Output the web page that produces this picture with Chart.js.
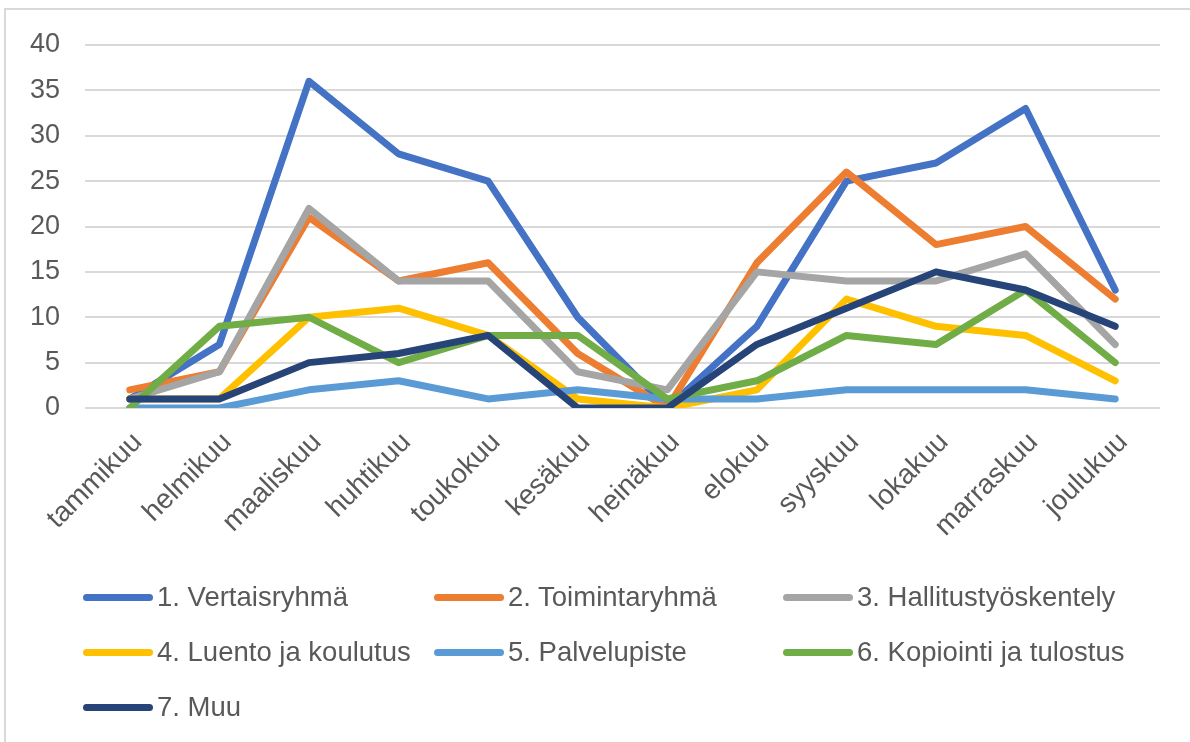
<!DOCTYPE html>
<html>
<head>
<meta charset="utf-8">
<script src="https://cdn.jsdelivr.net/npm/chart.js@4.4.1/dist/chart.umd.min.js"></script>
<style>
  html, body { margin: 0; padding: 0; background: #fff; }
  #wrap { position: relative; width: 1190px; height: 742px; overflow: hidden; }
  #frame { position: absolute; left: 4px; top: 8px; width: 1300px; height: 800px;
           border-left: 2px solid #d9d9d9; border-top: 2px solid #d9d9d9; }
  #c { position: absolute; left: 0; top: 0; }
  #legend { position: absolute; left: 0; top: 0; width: 1190px; height: 742px; pointer-events: none;
            font-family: "Liberation Sans", Arial, sans-serif; font-size: 27.5px; color: #595959; }
  .item { position: absolute; display: flex; align-items: center; white-space: nowrap; }
  .sw { width: 70px; height: 7px; border-radius: 4px; margin-right: 4px; }
</style>
</head>
<body>
<div id="wrap">
  <div id="frame"></div>
  <canvas id="c" width="1190" height="742"></canvas>
  <div id="legend"></div>
</div>
<script>
const months = ["tammikuu","helmikuu","maaliskuu","huhtikuu","toukokuu","kesäkuu","heinäkuu","elokuu","syyskuu","lokakuu","marraskuu","joulukuu"];
const seriesNames = ["1. Vertaisryhmä","2. Toimintaryhmä","3. Hallitustyöskentely","4. Luento ja koulutus","5. Palvelupiste","6. Kopiointi ja tulostus","7. Muu"];
const vertaisryhma = [1,7,36,28,25,10,0,9,25,27,33,13];
const toimintaryhma = [2,4,21,14,16,6,0,16,26,18,20,12];
const hallitustyoskentely = [1,4,22,14,14,4,2,15,14,14,17,7];
const luentoJaKoulutus = [1,1,10,11,8,1,0,2,12,9,8,3];
const palvelupiste = [0,0,2,3,1,2,1,1,2,2,2,1];
const kopiointiJaTulostus = [0,9,10,5,8,8,1,3,8,7,13,5];
const muu = [1,1,5,6,8,0,0,7,11,15,13,9];
const yTicks = [0,5,10,15,20,25,30,35,40];

const seriesValues = [vertaisryhma, toimintaryhma, hallitustyoskentely, luentoJaKoulutus, palvelupiste, kopiointiJaTulostus, muu];
const colors = ["#4472C4","#ED7D31","#A5A5A5","#FFC000","#5B9BD5","#70AD47","#264478"];

const datasets = seriesValues.map((vals, i) => ({
  label: seriesNames[i],
  data: vals,
  borderColor: colors[i],
  backgroundColor: colors[i],
  borderWidth: 7,
  pointRadius: 0,
  pointHoverRadius: 0,
  tension: 0,
  fill: false,
  borderJoinStyle: 'round',
  borderCapStyle: 'round',
  order: seriesValues.length - 1 - i
}));

new Chart(document.getElementById('c'), {
  type: 'line',
  data: { labels: months, datasets },
  options: {
    responsive: false,
    animation: false,
    layout: { padding: { left: 0, right: 30, top: 45, bottom: 0 } },
    plugins: { legend: { display: false }, tooltip: { enabled: false } },
    scales: {
      x: {
        offset: true,
        grid: { display: false, drawTicks: false },
        border: { display: false },
        ticks: {
          minRotation: 45, maxRotation: 45, padding: 18, labelOffset: 8,
          color: '#595959',
          font: { family: '"Liberation Sans", Arial, sans-serif', size: 28 }
        },
        afterFit: (s) => { s.height = 334; }
      },
      y: {
        min: 0, max: 40,
        afterBuildTicks: (s) => { s.ticks = yTicks.map(v => ({ value: v })); },
        grid: { color: '#d9d9d9', lineWidth: 2, drawTicks: false },
        border: { display: false },
        ticks: {
          padding: 25,
          color: '#595959',
          font: { family: '"Liberation Sans", Arial, sans-serif', size: 27 }
        },
        afterFit: (s) => { s.width = 85; }
      }
    }
  }
});

const legendPos = [[83,597],[434,597],[783,597],[83,652],[434,652],[783,652],[83,707]];
const lg = document.getElementById('legend');
seriesNames.forEach((name, i) => {
  const it = document.createElement('div');
  it.className = 'item';
  it.style.left = legendPos[i][0] + 'px';
  it.style.top = (legendPos[i][1] - 16) + 'px';
  it.style.height = '32px';
  const sw = document.createElement('span');
  sw.className = 'sw';
  sw.style.background = colors[i];
  const tx = document.createElement('span');
  tx.textContent = name;
  it.appendChild(sw); it.appendChild(tx);
  lg.appendChild(it);
});
</script>
</body>
</html>
